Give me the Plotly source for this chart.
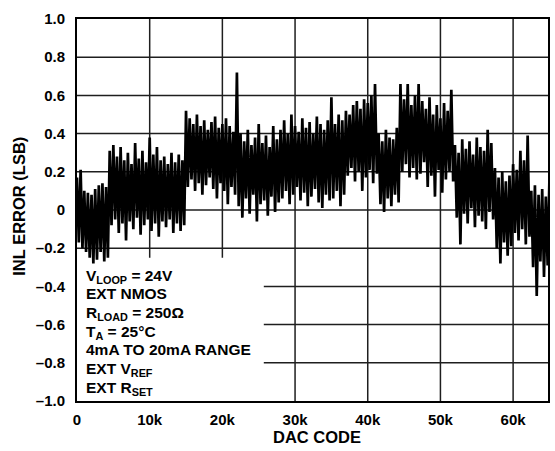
import numpy as np
import plotly.graph_objects as go

# INL error envelope per 500-code block: peak high and peak low reading (LSB)
block_size = 500
inl_high = [
    0.17, 0.21, 0.10, 0.09, 0.08, 0.11, 0.13, 0.14, 0.12,
    0.31, 0.34, 0.28, 0.33, 0.26, 0.30, 0.24, 0.35, 0.27, 0.31, 0.25, 0.38,
    0.29, 0.33, 0.26, 0.28, 0.24, 0.30, 0.25, 0.29, 0.26,
    0.52, 0.48, 0.45, 0.50, 0.44, 0.47, 0.42, 0.46, 0.49, 0.43, 0.45, 0.48, 0.44, 0.41,
    0.72, 0.40, 0.36, 0.42, 0.34, 0.38, 0.45, 0.35, 0.39, 0.33, 0.44, 0.37,
    0.42, 0.47, 0.40, 0.50, 0.44, 0.41, 0.48, 0.43, 0.46, 0.40, 0.49, 0.45, 0.42, 0.47,
    0.59, 0.45, 0.50, 0.47,
    0.52, 0.50, 0.55, 0.57, 0.53, 0.58, 0.56, 0.60, 0.66,
    0.40, 0.36, 0.42, 0.38, 0.37, 0.43,
    0.66, 0.58, 0.66, 0.55, 0.60, 0.66, 0.57, 0.53, 0.59, 0.50, 0.55, 0.48, 0.56, 0.52, 0.63,
    0.34, 0.30, 0.37, 0.32, 0.36, 0.29, 0.38, 0.33, 0.31, 0.42, 0.35,
    0.22, 0.17, 0.20, 0.15, 0.18, 0.24, 0.21, 0.31, 0.26,
    0.39,
    0.10, 0.13, 0.08, 0.11, 0.07, 0.17,
]
inl_low = [
    -0.17, -0.20, -0.22, -0.25, -0.28, -0.26, -0.22, -0.27, -0.25,
    -0.08, -0.05, -0.12, -0.07, -0.16, -0.06, -0.10, -0.04, -0.13, -0.08, -0.05, -0.11,
    -0.07, -0.14, -0.06, -0.09, -0.05, -0.12, -0.07, -0.11, -0.08,
    0.12, 0.16, 0.10, 0.14, 0.08, 0.13, 0.17, 0.11, 0.06, 0.14, 0.10, 0.03, 0.12, 0.08,
    0.02, -0.04, 0.06, -0.02, 0.08, -0.06, 0.03, 0.05, -0.03, 0.07, -0.01, 0.04,
    0.06, 0.10, 0.03, 0.08, 0.12, 0.05, 0.09, 0.02, 0.07, 0.11, 0.04, 0.01, 0.08, 0.05,
    0.06, 0.10, 0.02, 0.08,
    0.18, 0.22, 0.15, 0.20, 0.10, 0.17, 0.21, 0.14, 0.19,
    0.03, -0.01, 0.06, 0.02, 0.08, 0.04,
    0.20, 0.24, 0.17, 0.22, 0.16, 0.19, 0.25, 0.12, 0.18, 0.07, 0.21, 0.09, 0.16, 0.20, 0.15,
    -0.04, -0.18, -0.02, -0.07, 0.01, -0.09, -0.03, -0.06, -0.10, -0.01, -0.05,
    -0.20, -0.28, -0.17, -0.24, -0.19, -0.12, -0.16, -0.10, -0.18,
    -0.14,
    -0.30, -0.45, -0.27, -0.35, -0.29, -0.38,
]

x_tickvals = [0, 10000, 20000, 30000, 40000, 50000, 60000]
x_ticktext = ["0", "10k", "20k", "30k", "40k", "50k", "60k"]
y_tickvals = [-1.0, -0.8, -0.6, -0.4, -0.2, 0, 0.2, 0.4, 0.6, 0.8, 1.0]
y_ticktext = ["–1.0", "–0.8", "–0.6", "–0.4", "–0.2", "0", "0.2", "0.4", "0.6", "0.8", "1.0"]

conditions = [
    "V<sub>LOOP</sub> = 24V",
    "EXT NMOS",
    "R<sub>LOAD</sub> = 250Ω",
    "T<sub>A</sub> = 25°C",
    "4mA TO 20mA RANGE",
    "EXT V<sub>REF</sub>",
    "EXT R<sub>SET</sub>",
]

X_MAX = 64800
Y_MIN, Y_MAX = -1.0, 1.0

# interleave high/low readings so the trace sweeps the full noise band
n = len(inl_high)
codes = np.empty(2 * n)
vals = np.empty(2 * n)
codes[0::2] = np.arange(n) * block_size
codes[1::2] = np.arange(n) * block_size + block_size / 2
vals[0::2] = inl_high
vals[1::2] = inl_low

FONT = "Liberation Sans, Arial, sans-serif"
GRID = "#1e1e1e"

fig = go.Figure()
fig.add_trace(go.Scatter(
    x=codes, y=vals, mode="lines",
    line=dict(color="black", width=2.7),
    hoverinfo="skip", showlegend=False,
))

# grid drawn as shapes so the lines stop at the conditions panel
panel_code = 25700   # right edge of the conditions panel
panel_top = -0.25    # top edge of the conditions panel
for xv in x_tickvals[1:]:
    y0 = panel_top if xv < panel_code else Y_MIN
    fig.add_shape(type="line", x0=xv, x1=xv, y0=y0, y1=Y_MAX,
                  line=dict(color=GRID, width=1.5), layer="below")
for yv in y_tickvals[1:-1]:
    x0 = panel_code if yv < panel_top else 0
    fig.add_shape(type="line", x0=x0, x1=X_MAX, y0=yv, y1=yv,
                  line=dict(color=GRID, width=1.5), layer="below")

fig.update_xaxes(
    range=[0, X_MAX], tickvals=x_tickvals, ticktext=x_ticktext,
    showgrid=False, zeroline=False,
    showline=True, mirror=True, linecolor="black", linewidth=2,
    ticks="", ticklabelstandoff=4,
    tickfont=dict(family=FONT, size=15, color="black", weight="bold"),
)
fig.update_yaxes(
    range=[Y_MIN, Y_MAX], tickvals=y_tickvals, ticktext=y_ticktext,
    showgrid=False, zeroline=False,
    showline=True, mirror=True, linecolor="black", linewidth=2,
    ticks="", ticklabelstandoff=7,
    tickfont=dict(family=FONT, size=15, color="black", weight="bold"),
)

# conditions, one annotation per line
plot_top, plot_bottom = 19, 401
line_tops = [264.5, 283, 301.5, 320.5, 338.5, 357.5, 376.5]
for txt, top in zip(conditions, line_tops):
    fig.add_annotation(
        text=txt, xref="paper", yref="paper",
        x=0.014, y=(plot_bottom - top) / (plot_bottom - plot_top),
        xanchor="left", yanchor="top", align="left", showarrow=False,
        font=dict(family=FONT, size=15.5, color="black", weight="bold"),
    )

fig.add_annotation(
    text="DAC CODE", xref="paper", yref="paper", x=0.51, y=-0.095,
    xanchor="center", yanchor="middle", showarrow=False,
    font=dict(family=FONT, size=16.5, color="black", weight="bold"),
)
fig.add_annotation(
    text="INL ERROR (LSB)", xref="paper", yref="paper", x=-0.122, y=0.51,
    xanchor="center", yanchor="middle", textangle=-90, showarrow=False,
    font=dict(family=FONT, size=16.5, color="black", weight="bold"),
)

fig.update_layout(
    width=555, height=451,
    margin=dict(l=77, r=5, t=19, b=50),
    paper_bgcolor="white", plot_bgcolor="white",
)

fig.write_html("out.html")
